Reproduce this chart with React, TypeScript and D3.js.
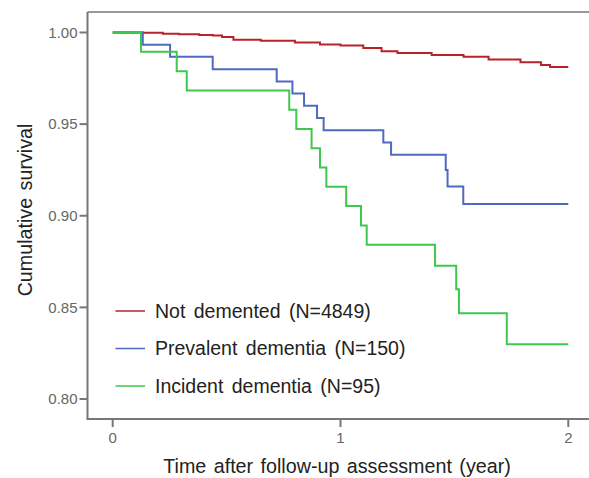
import React from "react";
import * as d3 from "d3";

const redTimes = [0, 0.13, 0.22, 0.29, 0.38, 0.44, 0.48, 0.53, 0.65, 0.8, 0.91, 1.0, 1.1, 1.18, 1.25, 1.4, 1.54, 1.65, 1.79, 1.88, 1.92, 2.0];
const redSurv = [1.0, 0.9998, 0.9993, 0.999, 0.9987, 0.9984, 0.9975, 0.996, 0.9955, 0.9945, 0.9934, 0.9929, 0.9915, 0.9898, 0.9888, 0.9877, 0.9867, 0.9853, 0.9837, 0.9823, 0.9812, 0.9812];

const blueTimes = [0, 0.132, 0.252, 0.439, 0.72, 0.789, 0.84, 0.897, 0.926, 1.188, 1.222, 1.462, 1.47, 1.539, 2.0];
const blueSurv = [1.0, 0.9933, 0.9867, 0.98, 0.9733, 0.9667, 0.96, 0.9533, 0.9467, 0.94, 0.9333, 0.925, 0.9159, 0.9064, 0.9064];

const greenTimes = [0, 0.124, 0.281, 0.325, 0.775, 0.806, 0.873, 0.91, 0.938, 1.025, 1.09, 1.115, 1.415, 1.508, 1.52, 1.73, 2.0];
const greenSurv = [1.0, 0.9895, 0.9789, 0.9684, 0.9579, 0.9474, 0.9368, 0.9263, 0.9158, 0.9053, 0.8947, 0.8842, 0.8727, 0.8599, 0.8468, 0.8299, 0.8299];

const seriesNames = ["Not demented (N=4849)", "Prevalent dementia (N=150)", "Incident dementia (N=95)"];
const seriesColors = ["#b8232b", "#4e6abf", "#3ec84e"];

const xTicks = [0, 1, 2];
const yTicks = [0.8, 0.85, 0.9, 0.95, 1.0];

const W = 589;
const H = 478;

export default function App() {
  const x = d3.scaleLinear().domain([0, 2]).range([112.7, 568.3]);
  const y = d3.scaleLinear().domain([0.8, 1.0]).range([399, 32.5]);
  const left = 87.5;
  const top = 12;
  const bottom = 419;

  const line = d3
    .line<[number, number]>()
    .x((d) => x(d[0]))
    .y((d) => y(d[1]))
    .curve(d3.curveStepAfter);

  const series = [
    { t: redTimes, s: redSurv },
    { t: blueTimes, s: blueSurv },
    { t: greenTimes, s: greenSurv },
  ];

  const font = "Arial, 'Liberation Sans', sans-serif";
  const legendY = [311, 348.5, 386];

  return (
    <div style={{ position: "absolute", left: 0, top: 0 }}>
      <svg width={W} height={H} style={{ display: "block", background: "#fff" }} fontFamily={font}>
        {/* frame */}
        <line x1={left} y1={top} x2={W + 5} y2={top} stroke="#999" strokeWidth={2} />
        <line x1={left} y1={top} x2={left} y2={bottom} stroke="#777" strokeWidth={2} />
        <line x1={left - 1} y1={bottom} x2={W + 5} y2={bottom} stroke="#777" strokeWidth={2} />

        {/* y ticks */}
        {yTicks.map((v) => (
          <g key={v}>
            <line x1={left - 8} x2={left} y1={y(v)} y2={y(v)} stroke="#777" strokeWidth={2} />
            <text x={left - 10} y={y(v) + 5.3} textAnchor="end" fontSize={15} fill="#666">
              {d3.format(".2f")(v)}
            </text>
          </g>
        ))}

        {/* x ticks */}
        {xTicks.map((v) => (
          <g key={v}>
            <line x1={x(v)} x2={x(v)} y1={bottom} y2={bottom + 8} stroke="#777" strokeWidth={2} />
            <text x={x(v)} y={bottom + 24} textAnchor="middle" fontSize={15} fill="#666">
              {v}
            </text>
          </g>
        ))}

        {/* curves */}
        {series.map((sr, i) => (
          <path
            key={i}
            d={line(sr.t.map((t, j) => [t, sr.s[j]] as [number, number])) || ""}
            fill="none"
            stroke={seriesColors[i]}
            strokeWidth={2}
          />
        ))}

        {/* legend */}
        {seriesNames.map((name, i) => (
          <g key={name}>
            <line x1={115.5} x2={145} y1={legendY[i]} y2={legendY[i]} stroke={seriesColors[i]} strokeWidth={1.5} />
            <text x={155} y={legendY[i] + 6.8} fontSize={19.5} fill="#222" wordSpacing={3}>
              {name}
            </text>
          </g>
        ))}

        {/* axis titles */}
        <text
          transform={`translate(32,210) rotate(-90)`}
          textAnchor="middle"
          fontSize={19.7}
          fill="#222"
          wordSpacing={2}
        >
          Cumulative survival
        </text>
        <text x={337} y={472.5} textAnchor="middle" fontSize={19.7} fill="#222" wordSpacing={2}>
          Time after follow-up assessment (year)
        </text>
      </svg>
    </div>
  );
}
